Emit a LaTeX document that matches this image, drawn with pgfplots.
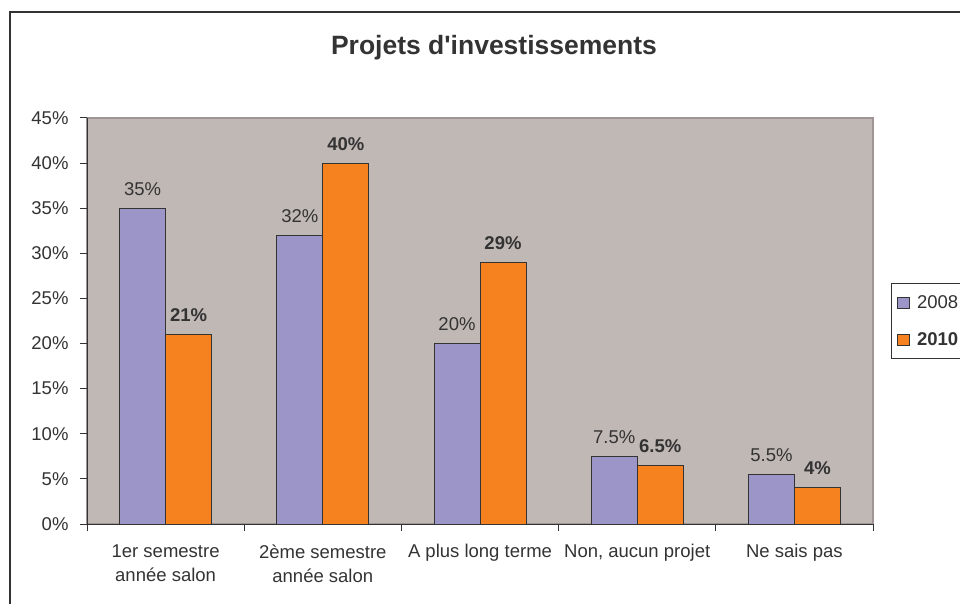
\documentclass[border=0pt]{standalone}
\usepackage{pgfplots}
\pgfplotsset{compat=1.18}
\usepackage{fontspec}
\setmainfont{Liberation Sans}[Ligatures=TeXOff]
\definecolor{bgc}{HTML}{C0B8B4}
\definecolor{bord}{HTML}{A09494}
\definecolor{purp}{HTML}{9C96C8}
\definecolor{oran}{HTML}{F5821F}
\definecolor{txt}{HTML}{333333}
\newcommand\sm{\fontsize{18.5}{24.5}\selectfont}
\pgfplotsset{sqlegend/.style={legend image code/.code={\draw[##1, line width=1pt] (0pt,-5.5pt) rectangle (12pt,5.5pt);}}}
\begin{document}
\begin{tikzpicture}
\path[use as bounding box] (0,0) rectangle (960pt,603pt);
\clip (0,0) rectangle (960pt,603pt);
\draw[line width=2pt, txt] (9.5pt,-5pt) -- (9.5pt,590.5pt) -- (975pt,590.5pt);
\begin{axis}[
  at={(87pt,79pt)}, anchor=south west,
  scale only axis, width=786pt, height=406pt,
  ybar=0pt, bar width=46pt,
  xmin=-0.5, xmax=4.5, ymin=0, ymax=45,
  axis lines=left, axis line style={-, draw=txt, line width=1pt},
  axis background/.style={fill=bgc, draw=bord, line width=1.5pt},
  ytick={0,5,...,45},
  yticklabel={\pgfmathprintnumber{\tick}\%},
  /pgf/number format/assume math mode=true,
  tick align=outside, major tick length=7pt,
  tick style={draw=txt, line width=1pt},
  ticklabel style={font=\sm, text=txt},
  yticklabel style={xshift=-8pt},
  xtick={-0.5,0.5,1.5,2.5,3.5,4.5}, xticklabels={,,,,,},
  extra x ticks={0,1,2,3,4},
  extra x tick labels={{1er semestre\\année salon},{2ème semestre\\année salon},{A plus long terme},{Non, aucun projet},{Ne sais pas}},
  extra x tick style={major tick length=0pt, tick style={draw=none}, xticklabel style={align=center, anchor=north, yshift=-17pt}},
  title={Projets d'investissements},
  title style={font=\fontsize{26.5}{30}\selectfont\bfseries, text=txt, anchor=base, at={(0.5178,1.1502)}, yshift=-3.5pt},
  legend cell align=left,
  legend style={at={(axis description cs:1.0229,0.5936)}, anchor=north west, draw=txt, line width=1pt, fill=white, font=\sm, text=txt,
    inner xsep=5pt, inner ysep=10pt, nodes={inner sep=2pt}, row sep=18.5pt,
    /tikz/every odd column/.append style={column sep=5.5pt}},
]
\addplot[fill=purp, draw=txt, line width=1pt, sqlegend,
  nodes near coords={\pgfmathprintnumber{\pgfplotspointmeta}\%},
  every node near coord/.append style={font=\sm, text=txt, yshift=9pt}]
  coordinates {(0,35) (1,32) (2,20) (3,7.5) (4,5.5)};
\addplot[fill=oran, draw=txt, line width=1pt, sqlegend,
  nodes near coords={\pgfmathprintnumber{\pgfplotspointmeta}\%},
  every node near coord/.append style={font=\sm\bfseries, text=txt, yshift=9pt}]
  coordinates {(0,21) (1,40) (2,29) (3,6.5) (4,4)};
\legend{2008,\textbf{2010}}
\end{axis}
\end{tikzpicture}
\end{document}
